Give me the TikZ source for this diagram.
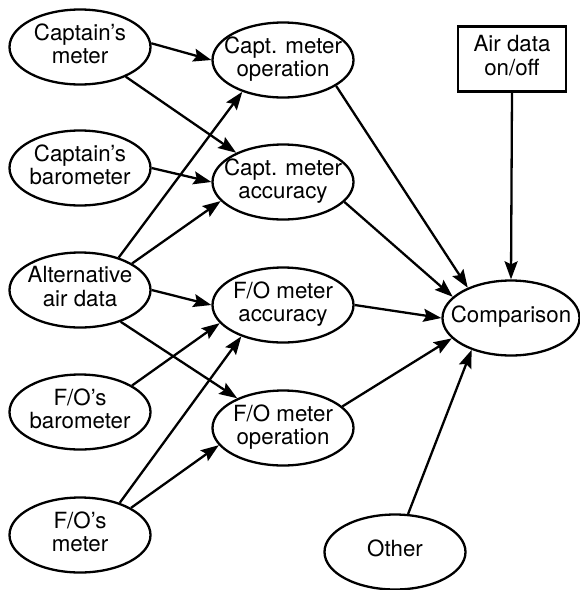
\documentclass[tikz,border=0pt]{standalone}
\usepackage{fontspec}
\setmainfont{TeX Gyre Heros}
\usetikzlibrary{shapes.geometric,arrows.meta}
\newcommand{\lbl}[1]{\makebox[0pt]{\begin{tabular}{@{}c@{}}#1\end{tabular}}}
\begin{document}
\begin{tikzpicture}[x=1pt,y=-1pt,
  ell/.style={draw,ellipse,line width=2.3pt,inner sep=0pt,minimum width=141pt,minimum height=75pt,
    font=\fontsize{22.3}{23.5}\selectfont},
  boxn/.style={draw,rectangle,line width=2.3pt,inner sep=0pt,minimum width=108pt,minimum height=65pt,
    font=\fontsize{22.3}{23.5}\selectfont},
  arr/.style={line width=2.3pt,-{Stealth[length=18pt,width=13pt,inset=3pt]}}]
\useasboundingbox (0,0) rectangle (580,590);
\node[ell] (cm) at (80,47) {\lbl{Captain’s\\meter}};
\node[ell] (cb) at (80,168) {\lbl{Captain’s\\barometer}};
\node[ell] (aad) at (80,290) {\lbl{Alternative\\air data}};
\node[ell] (fob) at (80,412) {\lbl{F/O’s\\barometer}};
\node[ell] (fom) at (80,535) {\lbl{F/O’s\\meter}};
\node[ell] (cmo) at (283,60) {\lbl{Capt. meter\\operation}};
\node[ell] (cma) at (283,182) {\lbl{Capt. meter\\accuracy}};
\node[ell] (foa) at (283,305) {\lbl{F/O meter\\accuracy}};
\node[ell] (foo) at (283,428) {\lbl{F/O meter\\operation}};
\node[ell,minimum width=137pt] (cmp) at (511,318) {\lbl{Comparison}};
\node[boxn] (air) at (512,59) {\lbl{Air data\\on/off}};
\node[ell] (oth) at (395,552) {\lbl{Other}};
\draw[arr] (cm.3) -- (cmo.180);
\draw[arr] (cm.-33) -- (cma.148);
\draw[arr] (cb.0) -- (cma.180);
\draw[arr] (aad.40) -- (cmo.218);
\draw[arr] (aad.27) -- (cma.197);
\draw[arr] (aad.0) -- (foa.180);
\draw[arr] (aad.-38) -- (foo.147);
\draw[arr] (fob.27) -- (foa.196);
\draw[arr] (fom.39) -- (foa.217);
\draw[arr] (fom.28) -- (foo.195);
\draw[arr] (cmo.-26) -- (cmp.145);
\draw[arr] (cma.-18) -- (cmp.160);
\draw[arr] (foa.0) -- (cmp.180);
\draw[arr] (foo.20) -- (cmp.199);
\draw[arr] (air.south) -- (cmp.north);
\draw[arr] (oth.71) -- (cmp.219);
\end{tikzpicture}
\end{document}
